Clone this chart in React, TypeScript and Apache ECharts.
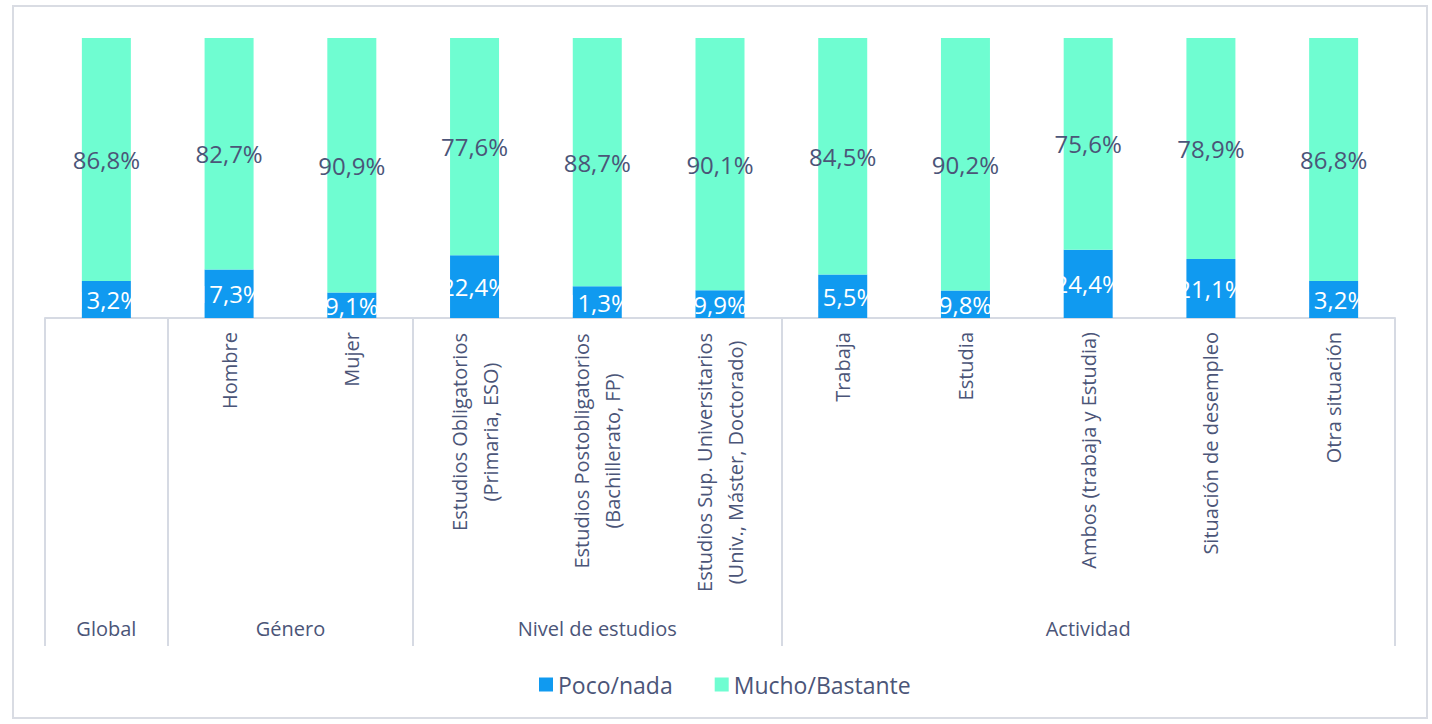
import React, { useEffect, useRef } from "react";
import * as echarts from "echarts";

const categories = [
  "Global",
  "Hombre",
  "Mujer",
  "Estudios Obligatorios\n(Primaria, ESO)",
  "Estudios Postobligatorios\n(Bachillerato, FP)",
  "Estudios Sup. Universitarios\n(Univ., Máster, Doctorado)",
  "Trabaja",
  "Estudia",
  "Ambos (trabaja y Estudia)",
  "Situación de desempleo",
  "Otra situación",
];
const pocoNada = [13.2, 17.3, 9.1, 22.4, 11.3, 9.9, 15.5, 9.8, 24.4, 21.1, 13.2];
const muchoBastante = [86.8, 82.7, 90.9, 77.6, 88.7, 90.1, 84.5, 90.2, 75.6, 78.9, 86.8];
const groupNames = ["Global", "Género", "Nivel de estudios", "Actividad"];
const groupSizes = [1, 2, 3, 5];
const seriesNames = ["Poco/nada", "Mucho/Bastante"];

const FONT = '"Open Sans", "Noto Sans", sans-serif';
const TEXT = "#4B5578";
const BLUE = "#109AF0";
const TEAL = "#6FFDD1";
const LINE = "#D6DAE3";
const AXIS_FS = 20;

const fmt = (v: number) => v.toFixed(1).replace(".", ",") + "%";

export default function App() {
  const ref = useRef<HTMLDivElement>(null);
  useEffect(() => {
    if (!ref.current) return;
    const chart = echarts.init(ref.current, undefined, { renderer: "svg" });

    const bounds: number[] = [-0.5];
    const centers: number[] = [];
    let acc = -0.5;
    groupSizes.forEach((s) => {
      centers.push(acc + s / 2);
      acc += s;
      bounds.push(acc);
    });

    const ctx = document.createElement("canvas").getContext("2d")!;
    ctx.font = `${AXIS_FS}px ${FONT}`;
    const rich: Record<string, any> = {};
    categories.forEach((c, i) => {
      if (c.includes("\n")) {
        const w = Math.max(...c.split("\n").map((l) => ctx.measureText(l).width));
        rich["r" + i] = {
          width: Math.ceil(w) + 2,
          align: "center",
          fontSize: AXIS_FS,
          lineHeight: 31,
          color: TEXT,
          fontFamily: FONT,
        };
      }
    });

    const singleGroupNames = new Set(
      groupNames.filter((_, gi) => groupSizes[gi] === 1)
    );

    chart.setOption({
      animation: false,
      textStyle: { fontFamily: FONT },
      graphic: [
        {
          type: "rect",
          shape: { x: 13, y: 6, width: 1414, height: 712 },
          style: { fill: "none", stroke: "#D9DCE3", lineWidth: 2 },
          silent: true,
        },
      ],
      legend: {
        data: seriesNames,
        bottom: 23,
        left: 534,
        itemWidth: 14,
        itemHeight: 14,
        itemGap: 42,
        icon: "rect",
        textStyle: { fontSize: 23, color: TEXT, fontFamily: FONT },
      },
      grid: { left: 45, right: 37, top: 38, bottom: 406, containLabel: false },
      xAxis: [
        {
          type: "category",
          data: categories,
          axisLine: { show: true, lineStyle: { color: LINE, width: 2 } },
          axisTick: { show: false },
          axisLabel: {
            rotate: 90,
            margin: 14,
            interval: 0,
            fontSize: AXIS_FS,
            lineHeight: 31,
            color: TEXT,
            fontFamily: FONT,
            rich,
            formatter: (value: string, index: number) => {
              if (singleGroupNames.has(value)) return "";
              if (!value.includes("\n")) return value;
              return value
                .split("\n")
                .map((l) => `{r${index}|${l}}`)
                .join("\n");
            },
          },
        },
        {
          type: "value",
          min: -0.5,
          max: categories.length - 0.5,
          position: "bottom",
          axisLine: { show: false },
          splitLine: { show: false },
          axisTick: {
            show: true,
            customValues: bounds,
            length: 328,
            lineStyle: { color: LINE, width: 2 },
          },
          axisLabel: {
            show: true,
            customValues: centers,
            margin: 300,
            fontSize: AXIS_FS,
            color: TEXT,
            fontFamily: FONT,
            formatter: (v: number) => {
              const gi = centers.findIndex((c) => Math.abs(c - v) < 1e-6);
              return gi >= 0 ? groupNames[gi] : "";
            },
          },
        },
      ],
      yAxis: { type: "value", min: 0, max: 100, show: false },
      series: [
        {
          name: seriesNames[0],
          type: "bar",
          stack: "total",
          xAxisIndex: 0,
          data: pocoNada,
          barWidth: 49,
          itemStyle: { color: BLUE },
          label: {
            show: true,
            position: "inside",
            color: "#FFFFFF",
            fontSize: 24,
            fontFamily: FONT,
            formatter: (p: any) => fmt(p.value),
          },
        },
        {
          name: seriesNames[1],
          type: "bar",
          stack: "total",
          xAxisIndex: 0,
          data: muchoBastante,
          barWidth: 49,
          itemStyle: { color: TEAL },
          label: {
            show: true,
            position: "inside",
            color: TEXT,
            fontSize: 24,
            fontFamily: FONT,
            formatter: (p: any) => fmt(p.value),
          },
        },
      ],
    });
    return () => chart.dispose();
  }, []);
  return (
    <div
      ref={ref}
      style={{ position: "fixed", left: 0, top: 0, width: 1432, height: 724, background: "#fff" }}
    />
  );
}
